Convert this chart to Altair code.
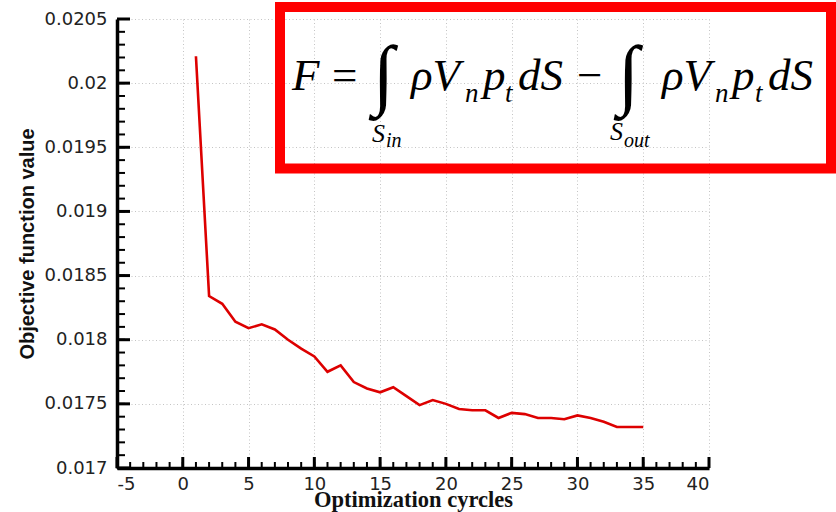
import altair as alt
import pandas as pd

# ---- data ----
cycles = list(range(1, 36))
objective = [0.02021, 0.01834, 0.01828, 0.01814, 0.01809, 0.01812, 0.01808,
             0.01800, 0.01793, 0.01787, 0.01775, 0.01780, 0.01767, 0.01762,
             0.01759, 0.01763, 0.01756, 0.01749, 0.01753, 0.01750, 0.01746,
             0.01745, 0.01745, 0.01739, 0.01743, 0.01742, 0.01739, 0.01739,
             0.01738, 0.01741, 0.01739, 0.01736, 0.01732, 0.01732, 0.01732]

x_major = [-5, 0, 5, 10, 15, 20, 25, 30, 35, 40]
x_minor = list(range(-5, 41))
y_major = [0.017, 0.0175, 0.018, 0.0185, 0.019, 0.0195, 0.02, 0.0205]
y_minor = [round(0.017 + k * 0.0001, 4) for k in range(36)]

X_DOMAIN = [-5, 40]
Y_DOMAIN = [0.017, 0.0205]

W, H = 592, 449
LEFT, TOP = 117, 19
SERIF = "Liberation Serif, Times New Roman, serif"
LABEL_FONT = "DejaVu Sans"
LABEL_SIZE = 18

df = pd.DataFrame({"cycle": cycles, "value": objective})

xscale = alt.Scale(domain=X_DOMAIN, nice=False, zero=False)
yscale = alt.Scale(domain=Y_DOMAIN, nice=False, zero=False)

line = alt.Chart(df).mark_line(color="#dd0000", strokeWidth=2.6).encode(
    x=alt.X("cycle:Q", scale=xscale,
            axis=alt.Axis(values=x_major, title="Optimization cyrcles",
                          labelExpr="datum.value + ''",
                          ticks=False, tickSize=0, labelPadding=7,
                          labelFont=LABEL_FONT, labelFontSize=LABEL_SIZE, labelColor="#222",
                          titleFont=SERIF, titleFontWeight="bold",
                          titleFontSize=22.5, titleColor="#111",
                          titleX=W / 2, titleY=38, titleBaseline="alphabetic",
                          titleAnchor="middle", titleAlign="center",
                          domainColor="black", domainWidth=3.5,
                          grid=True, gridColor="#c4c4c4", gridDash=[1, 2.5],
                          gridWidth=1)),
    y=alt.Y("value:Q", scale=yscale,
            axis=alt.Axis(values=y_major, title="Objective function value",
                          format=".4~f",
                          ticks=False, tickSize=0, labelPadding=10,
                          labelFont=LABEL_FONT, labelFontSize=LABEL_SIZE, labelColor="#222",
                          titleFont="Liberation Sans", titleFontWeight="bold",
                          titleFontSize=20, titleColor="#111",
                          titleAngle=270, titleX=27 - LEFT, titleY=H / 2,
                          titleAlign="center", titleBaseline="middle",
                          domainColor="black", domainWidth=3.5,
                          grid=True, gridColor="#c4c4c4", gridDash=[1, 2.5],
                          gridWidth=1)),
)

def xticks(vals, length, width):
    d = pd.DataFrame({"xt": vals})
    return alt.Chart(d).mark_rule(color="black", strokeWidth=width).encode(
        x=alt.X("xt:Q", scale=xscale, axis=None),
        y=alt.value(H), y2=alt.value(H - length))

def yticks(vals, length, width):
    d = pd.DataFrame({"yt": vals})
    return alt.Chart(d).mark_rule(color="black", strokeWidth=width).encode(
        y=alt.Y("yt:Q", scale=yscale, axis=None),
        x=alt.value(0), x2=alt.value(length))

one = pd.DataFrame({"k": [0]})

box = alt.Chart(one).mark_rect(filled=False, stroke="#ff0000", strokeWidth=10).encode(
    x=alt.value(280 - LEFT), x2=alt.value(831 - LEFT),
    y=alt.value(7 - TOP), y2=alt.value(168.5 - TOP))

def txt(s, x, y, size, italic=True):
    kw = dict(text=s, align="left", baseline="alphabetic",
              font=SERIF, fontSize=size, color="black")
    if italic:
        kw["fontStyle"] = "italic"
    return alt.Chart(one).mark_text(**kw).encode(
        x=alt.value(x - LEFT), y=alt.value(y - TOP))

formula = [
    txt("F", 292, 90, 45),
    txt("=", 332, 90, 45, italic=False),
    txt("\u222b", 373, 100, 78, italic=False),
    txt("S", 372, 141.5, 26),
    txt("in", 386, 147, 20),
    txt("\u03c1V", 411, 90, 45),
    txt("n", 465, 102, 27),
    txt("p", 483, 90, 45),
    txt("t", 505, 102, 27),
    txt("dS", 518, 90, 45),
    txt("\u2212", 577, 90, 45, italic=False),
    txt("\u222b", 618, 100, 78, italic=False),
    txt("S", 610, 140, 26),
    txt("out", 624, 147, 20),
    txt("\u03c1V", 662, 90, 45),
    txt("n", 715, 102, 27),
    txt("p", 732, 90, 45),
    txt("t", 755, 102, 27),
    txt("dS", 768, 90, 45),
]

chart = alt.layer(
    line,
    xticks(x_minor, 6, 2), xticks(x_major, 11, 3),
    yticks(y_minor, 8, 2), yticks(y_major, 13, 3),
    box, *formula,
).resolve_axis(x="independent", y="independent").properties(
    width=W, height=H,
    autosize=alt.AutoSizeParams(type="none"),
    padding={"left": LEFT, "top": TOP, "right": 836 - LEFT - W, "bottom": 512 - TOP - H},
    background="white",
).configure_view(stroke=None)

chart.save("out.html", embed_options={"renderer": "svg", "actions": False})
